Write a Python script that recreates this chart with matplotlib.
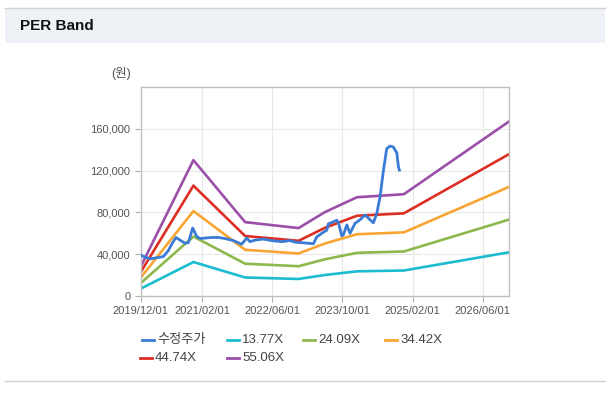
import numpy as np
import matplotlib
matplotlib.use('Agg')
import matplotlib.pyplot as plt
import matplotlib.dates as mdates
from matplotlib.lines import Line2D
from matplotlib.patches import Rectangle
from matplotlib.ticker import FixedLocator, FuncFormatter

plt.rcParams['font.family'] = ['Liberation Sans', 'Noto Sans CJK KR', 'DejaVu Sans']

## PER band knots
band_dates = ['2019-12-01', '2020-12-01', '2021-11-25', '2022-12-01',
              '2023-06-01', '2024-01-10', '2024-12-01', '2026-12-01']
band_1377 = [7000, 32500, 17700, 16300, 20100, 23600, 24400, 41800]
band_2409 = [12300, 56900, 30900, 28500, 35100, 41300, 42600, 73100]
band_3442 = [17500, 81300, 44200, 40700, 50200, 59100, 60900, 104400]
band_4474 = [22800, 105600, 57400, 52800, 65200, 76800, 79100, 135700]
band_5506 = [28000, 130000, 70700, 65000, 80200, 94500, 97400, 167000]

## adjusted price
price_dates = ['2019-12-01', '2020-02-04', '2020-05-06', '2020-06-10', '2020-07-05',
               '2020-08-02', '2020-08-30', '2020-10-04', '2020-10-27', '2020-11-26',
               '2020-12-24', '2021-01-16', '2021-04-04', '2021-05-23', '2021-07-08',
               '2021-09-04', '2021-10-09', '2021-11-01', '2021-12-06', '2021-12-29',
               '2022-02-02', '2022-03-31', '2022-05-29', '2022-08-06', '2022-10-03',
               '2022-11-07', '2022-12-23', '2023-02-07', '2023-03-14', '2023-04-06',
               '2023-05-11', '2023-06-15', '2023-06-26', '2023-07-30', '2023-08-23',
               '2023-09-04', '2023-09-27', '2023-10-08', '2023-11-01', '2023-11-23',
               '2023-12-28', '2024-02-01', '2024-03-07', '2024-04-10', '2024-05-03',
               '2024-05-27', '2024-06-19', '2024-07-12', '2024-08-04', '2024-08-27',
               '2024-09-19', '2024-10-13', '2024-10-24', '2024-10-31']
price = [39000, 35500, 37700, 43500, 50000,
         56000, 53500, 50500, 51000, 65000,
         57000, 55000, 56000, 56000, 55000,
         53000, 51000, 49500, 55500, 52000,
         53500, 54500, 53000, 52000, 53000,
         51500, 51000, 50500, 50000, 56500,
         60000, 63000, 69000, 71000, 72500,
         70000, 57500, 58500, 68000, 60000,
         69500, 73000, 77500, 73000, 70000,
         79000, 95000, 120000, 141000, 143500,
         142500, 137000, 124000, 120500]

labels = ['수정주가', '13.77X', '24.09X', '34.42X', '44.74X', '55.06X']
colors = ['#3a7bd5', '#1bbcd0', '#8db84c', '#f8a533', '#dd2e24', '#9b4fa9']

xticks = ['2019/12/01', '2021/02/01', '2022/06/01', '2023/10/01', '2025/02/01', '2026/06/01']
yticks = [0, 40000, 80000, 120000, 160000]

W, H = 613, 394
def fx(x):
    return x / W
def fy(y):
    return 1 - y / H

fig = plt.figure(figsize=(W / 100, H / 100), dpi=100)

## header box
fig.patches.append(Rectangle((fx(5), fy(43)), 600 / W, 35 / H, transform=fig.transFigure,
                             facecolor='#eef2f7', edgecolor='none', zorder=0))
fig.lines.append(Line2D([fx(5), fx(605)], [fy(7.5), fy(7.5)], transform=fig.transFigure,
                        color='#d0d0d0', lw=1))
fig.lines.append(Line2D([fx(5), fx(605)], [fy(381), fy(381)], transform=fig.transFigure,
                        color='#d0d0d0', lw=1))
fig.text(fx(20), fy(26), 'PER Band', fontsize=11, fontweight='bold', ha='left', va='center',
         color='#111111')

## chart
left, right, top, bottom = 140.7, 509, 87, 296
ax = fig.add_axes([fx(left), fy(bottom), (right - left) / W, (bottom - top) / H])

bd = np.array(band_dates, dtype='datetime64[D]')
bands = [band_1377, band_2409, band_3442, band_4474, band_5506]
for vals, c in zip(bands, colors[1:]):
    ax.plot(bd, vals, color=c, lw=1.9, solid_joinstyle='round')
ax.plot(np.array(price_dates, dtype='datetime64[D]'), price, color=colors[0], lw=2,
        solid_joinstyle='round', zorder=5)

ax.set_xlim(np.datetime64('2019-12-01'), np.datetime64('2026-12-01'))
ax.set_ylim(0, 200000)
xt = [np.datetime64(s.replace('/', '-')) for s in xticks]
ax.set_xticks(mdates.date2num(xt))
ax.set_xticklabels(xticks)
ax.yaxis.set_major_locator(FixedLocator(yticks))
ax.yaxis.set_major_formatter(FuncFormatter(lambda v, p: '{:,.0f}'.format(v)))
ax.tick_params(labelsize=8, colors='#b0b0b0', labelcolor='#555555', length=4, width=0.8)
ax.grid(color='#e8e8e8', lw=0.8)
ax.set_axisbelow(True)
for s in ax.spines.values():
    s.set_color('#c0c0c0')
    s.set_linewidth(1)

fig.text(fx(131), fy(73), '(원)', fontsize=9, ha='right', va='center', color='#555555')

## legend (manual)
leg_pos = [(142, 340), (227, 340), (303, 340), (385, 340), (140, 358), (227, 358)]
for (lx, ly), lab, c in zip(leg_pos, labels, colors):
    fig.lines.append(Line2D([fx(lx), fx(lx + 12)], [fy(ly), fy(ly)], transform=fig.transFigure,
                            color=c, lw=2))
    fig.text(fx(lx + 15), fy(ly), lab, fontsize=9.5, ha='left', va='center', color='#444444')

fig.savefig('out.png', dpi=100)
